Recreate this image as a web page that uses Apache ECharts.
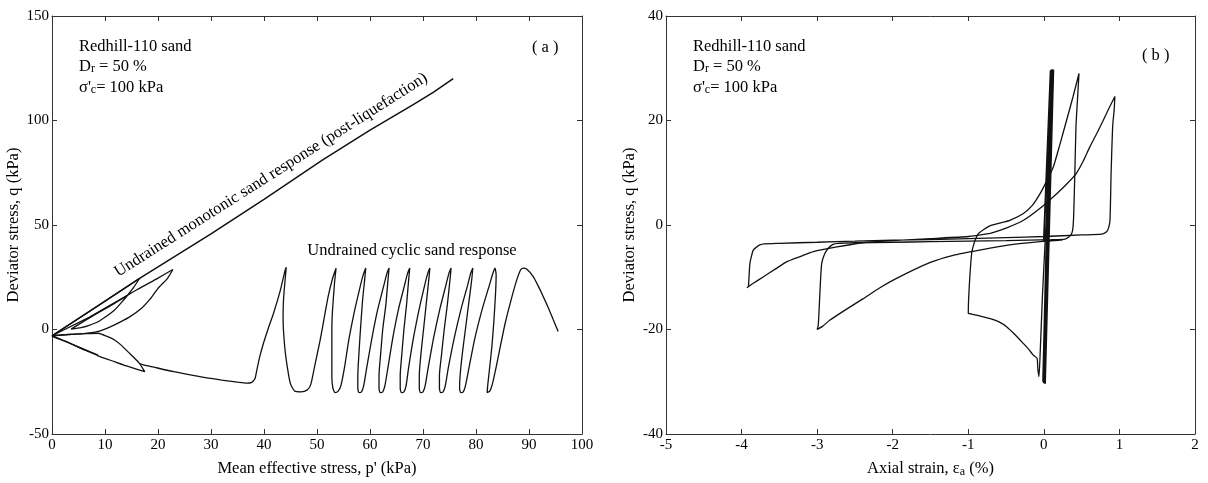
<!DOCTYPE html>
<html><head><meta charset="utf-8">
<script src="https://cdn.jsdelivr.net/npm/echarts@6/dist/echarts.min.js"></script>
<style>html,body{margin:0;padding:0;background:#fff}#c{width:1208px;height:483px}</style>
</head><body><div id="c"></div>
<script>
// ---------- Panel (a) data: [p', q] ----------
const leftXTicks = [0,10,20,30,40,50,60,70,80,90,100];
const leftYTicks = [-50,0,50,100,150];
const leftMonotonic = [[0,-3],[16.6,24.6],[30,45.8],[40,62.3],[51,81],[60,95.4],[68,107.4],[72,113.6],[75.7,120]];
const leftUp0 = [[0,-3],[8,10.2],[16.5,24.4]];
const leftUp0b = [[0,-3],[7,5.8],[14.3,16.5]];
const leftUp1 = [[16.5,24.4],[15.5,20.5],[14.3,16.5],[13,12.6],[11.8,9.3],[10.2,6.2],[8.7,3.7],[7,2.0],[5.5,0.9],[3.6,0.2],[8,7],[11.8,12.5],[16,19],[20,24.6],[22.8,28.7]];
const leftUp2 = [[22.8,28.7],[21.8,24.5],[20,19.7],[18.5,14.5],[16.9,10.2],[14.5,5.8],[11.8,2.2],[10,0.2],[8.1,-1.3],[6,-2.0],[3.6,-2.3],[0,-3]];
const leftLow1 = [[0,-3],[8.7,-12.2],[6,-9.6],[3,-6.2],[0,-3.3]];
const leftLow2 = [[0,-3],[3,-2.4],[6,-2.0],[8.7,-1.8],[10.3,-3.2],[11.8,-5.0],[13.1,-7.6],[14.3,-10.6],[15.5,-13.5],[16.5,-16.2],[17.5,-20.2],[14.5,-17.8],[11.8,-15.4],[8.7,-12.6],[5.5,-9.0],[2.5,-5.6],[0,-3]];
const leftCyclic = [[16.6,-16.4],[17.4,-17.0],[18.5,-17.6],[23,-20.2],[27.9,-22.6],[32,-24.2],[35,-25.2],[36.7,-25.7],[37.7,-25.3],[38.3,-23.5],[38.6,-20],[39.2,-13],[39.9,-6.6],[40.8,0.5],[41.8,7.8],[43,18],[44.0,28.5],[44.2,29.8],
 [43.7,15],[43.6,5],[43.9,-8],[44.4,-18],[45.0,-26],[45.8,-29.5],[47.0,-29.8],[48.1,-29],[48.8,-26.5],[49.6,-17],[50.6,-5],[52.1,15.7],[53.0,25],[53.6,29.3],
 [53.3,22.1],[52.9,8],[52.8,-0.2],[52.8,-12],[52.8,-22.6],[53.0,-28],[53.4,-30.2],[54.0,-29.5],[54.5,-27],
 [55.2,-18],[56.0,-5],[57.0,8],[58.0,19],[58.7,26],[59.2,29.4],
 [59.0,24],[58.6,14],[58.2,0],[57.9,-12],[57.7,-22],[57.7,-28],[57.9,-30.2],[58.4,-29.8],[58.8,-27],
 [59.4,-18],[60.3,-5],[61.4,9],[62.5,20],[63.2,27],[63.6,29.4],
 [63.4,24],[63.0,12],[62.4,0],[62.0,-12],[61.7,-22],[61.7,-28],[61.9,-30.2],[62.4,-29.8],[62.8,-27],
 [63.4,-18],[64.3,-4],[65.4,10],[66.5,21],[67.1,27],[67.5,29.4],
 [67.3,24],[66.9,12],[66.4,0],[66.0,-12],[65.7,-22],[65.7,-28],[65.9,-30.2],[66.4,-29.8],[66.8,-27],
 [67.3,-18],[68.2,-4],[69.3,10],[70.3,21],[70.9,27],[71.3,29.4],
 [71.1,24],[70.6,12],[70.1,0],[69.6,-12],[69.3,-22],[69.3,-28],[69.5,-30.2],[70.0,-29.8],[70.4,-27],
 [71.0,-18],[72.0,-4],[73.2,10],[74.3,21],[74.9,27],[75.3,29.4],
 [75.1,24],[74.6,12],[74.0,0],[73.5,-12],[73.1,-22],[73.1,-28],[73.3,-30.2],[73.8,-29.8],[74.2,-27],
 [74.8,-18],[75.9,-4],[77.2,10],[78.4,21],[79.0,27],[79.4,29.4],
 [79.2,24],[78.6,12],[78.0,0],[77.4,-12],[77.0,-22],[76.9,-28],[77.1,-30.2],[77.6,-29.8],[78.0,-27],
 [78.7,-18],[79.8,-4],[81.2,10],[82.5,21],[83.2,27],[83.6,29.4],
 [83.8,26],[83.7,18],[83.4,5],[83.0,-8],[82.5,-20],[82.2,-27],[82.1,-30.2],[82.6,-29.5],[83.1,-26],
 [83.8,-18],[84.6,-8],[85.5,3],[86.5,13],[87.6,23],[88.4,28.5],[88.9,29.4],[89.6,28.8],[90.8,25.3],[91.8,20.5],[92.7,15.7],[93.7,10],[94.6,4.5],[95.5,-1.0]];

// ---------- Panel (b) data: [axial strain %, q] ----------
const rightXTicks = [-5,-4,-3,-2,-1,0,1,2];
const rightYTicks = [-40,-20,0,20,40];
const rightBand = [[0.0,-3],[0.09,29.6],[-0.01,-30.0],[0.1,29.7],[0.0,-30.3],[0.11,29.8],[0.01,-30.2],[0.12,29.7],[0.015,-30.4],[0.125,29.7]];
const rightLoopA = [[0.125,29.7],[0.07,12],[0.02,-2.3],[-0.02,-14],[-0.05,-25.0],[-0.065,-29.0],[-0.08,-27.5],[-0.09,-25.5],[-0.14,-24.9],[-0.2,-23.8],[-0.27,-22.7],[-0.38,-21.0],[-0.49,-19.5],[-0.6,-18.5],[-0.71,-17.9],[-0.85,-17.4],[-0.97,-17.0],[-1.0,-16.9],
 [-0.995,-14],[-0.98,-10],[-0.955,-5.4],[-0.93,-3.8],[-0.9,-2.6],[-0.87,-1.7],[-0.80,-0.9],[-0.72,-0.2],[-0.6,0.3],[-0.45,0.9],[-0.27,2.2],[-0.15,3.8],[-0.05,6.0],[0.04,8.5],[0.125,11.1],[0.21,15.3],[0.30,20.0],[0.385,24.5],[0.465,29.0],
 [0.445,24],[0.425,18.8],[0.41,10],[0.395,2],[0.385,-0.5],[0.37,-1.6],[0.33,-2.3],[0.28,-2.7],[0.1,-2.8],[-0.5,-3.0],[-1.0,-3.1],[-1.5,-3.2],[-2.0,-3.3],[-2.5,-3.4],[-2.72,-3.5],[-2.79,-3.7],[-2.85,-4.4],[-2.90,-5.5],[-2.94,-7.4],[-2.96,-12],[-2.985,-19.2],[-3.0,-20.0],
 [-2.93,-19.4],[-2.83,-18.2],[-2.6,-16.0],[-2.39,-14.1],[-2.17,-12.0],[-1.95,-10.2],[-1.51,-7.2],[-1.2,-5.8],[-0.85,-4.8],[-0.45,-3.8],[-0.05,-3.2],[0.25,-2.9]];
const rightLoopB = [[-0.71,-1.6],[-0.5,-0.6],[-0.27,0.9],[-0.05,3.2],[0.17,6.0],[0.3,7.8],[0.43,9.9],[0.52,12.2],[0.61,15],[0.70,17.5],[0.785,20],[0.86,22.3],[0.94,24.6],
 [0.93,22],[0.91,18.8],[0.89,10],[0.875,0.9],[0.855,-0.6],[0.83,-1.3],[0.765,-1.75],[0.5,-1.9],[0,-2.2],[-0.5,-2.4],[-1.0,-2.6],[-1.5,-2.8],[-2.0,-2.9],[-2.5,-3.1],[-3.0,-3.3],[-3.5,-3.5],[-3.7,-3.6],[-3.76,-3.8],[-3.80,-4.2],[-3.845,-4.8],[-3.87,-6],[-3.89,-7.4],[-3.90,-9.5],[-3.91,-11.8],[-3.93,-12.0],
 [-3.85,-11.2],[-3.71,-9.9],[-3.55,-8.4],[-3.40,-7.0],[-3.2,-5.9],[-3.05,-5.1],[-2.74,-4.2],[-2.4,-3.4],[-2.0,-3.0],[-1.5,-2.6],[-1.0,-2.2],[-0.71,-1.6]];

const FONT = "'Liberation Serif','Times New Roman',serif";
const AX = '#333';
const FS = 16.5;

function xAx(gi, min, max, interval, pos, name, show){
  return {type:'value', gridIndex:gi, min, max, interval, position:pos,
    axisLine:{show:true, onZero:false, lineStyle:{color:AX,width:1}},
    axisTick:{show:true, inside:true, length:5, lineStyle:{color:AX}},
    axisLabel:{show:show, color:'#000', fontFamily:FONT, fontSize:15, margin:4},
    splitLine:{show:false},
    name: name||'', nameLocation:'middle', nameGap:26,
    nameTextStyle:{color:'#000', fontFamily:FONT, fontSize:FS,
      rich:{n:{fontFamily:FONT,fontSize:FS,color:'#000'}, s:{fontFamily:FONT,fontSize:12,color:'#000',padding:[6,0,0,0]}}}};
}
function yAx(gi, min, max, interval, pos, name, show){
  return {type:'value', gridIndex:gi, min, max, interval, position:pos,
    axisLine:{show:true, onZero:false, lineStyle:{color:AX,width:1}},
    axisTick:{show:true, inside:true, length:5, lineStyle:{color:AX}},
    axisLabel:{show:show, color:'#000', fontFamily:FONT, fontSize:15, margin:3},
    splitLine:{show:false},
    name: name||'', nameLocation:'middle', nameGap:28,
    nameTextStyle:{color:'#000', fontFamily:FONT, fontSize:FS}};
}
function ser(data, xi, yi, w, sm){
  return {type:'line', xAxisIndex:xi, yAxisIndex:yi, data, showSymbol:false, symbol:'none',
    smooth: sm||false,
    lineStyle:{color:'#111', width:w||1.3}, silent:true, animation:false, z:3};
}

const chart = echarts.init(document.getElementById('c'), null, {renderer:'canvas'});
const rich = {
  a:{fontFamily:FONT, fontSize:FS, color:'#000', verticalAlign:'bottom', lineHeight:19},
  s:{fontFamily:FONT, fontSize:12, color:'#000', verticalAlign:'bottom', lineHeight:15}
};
function note(left, top, text){
  return {type:'text', left, top, style:{text, rich, fill:'#000', font:FS+'px '+FONT}};
}
chart.setOption({
  animation:false,
  grid:[{left:52, right:626, top:16, bottom:49},{left:666, right:13, top:16, bottom:49}],
  xAxis:[
    xAx(0,0,100,10,'bottom',"Mean effective stress, p' (kPa)",true),
    xAx(0,0,100,10,'top','',false),
    xAx(1,-5,2,1,'bottom','{n|Axial strain, ε}{s|a}{n| (%)}',true),
    xAx(1,-5,2,1,'top','',false)
  ],
  yAxis:[
    yAx(0,-50,150,50,'left','Deviator stress, q (kPa)',true),
    yAx(0,-50,150,50,'right','',false),
    yAx(1,-40,40,20,'left','Deviator stress, q (kPa)',true),
    yAx(1,-40,40,20,'right','',false)
  ],
  series:[
    ser(leftMonotonic,0,0,1.5), ser(leftUp0,0,0), ser(leftUp0b,0,0), ser(leftUp1,0,0,1.3,0.2), ser(leftUp2,0,0,1.3,0.2),
    ser(leftLow1,0,0), ser(leftLow2,0,0,1.3,0.2), ser(leftCyclic,0,0,1.3,0.2),
    ser(rightBand,2,2,1.9), ser(rightLoopA,2,2,1.3,0.2), ser(rightLoopB,2,2,1.3,0.2)
  ],
  graphic:[
    note(79,38,'{a|Redhill-110 sand}'),
    note(79,58,'{a|D}{s|r}{a| = 50 %}'),
    note(79,79,"{a|σ'}{s|c}{a|= 100 kPa}"),
    note(532,39,'{a|( a )}'),
    note(693,38,'{a|Redhill-110 sand}'),
    note(693,58,'{a|D}{s|r}{a| = 50 %}'),
    note(693,79,"{a|σ'}{s|c}{a|= 100 kPa}"),
    note(1142,47,'{a|( b )}'),
    {type:'text', x:271, y:175, rotation:32.4*Math.PI/180,
      style:{text:'Undrained monotonic sand response (post-liquefaction)', fill:'#000', font:FS+'px '+FONT, align:'center', verticalAlign:'middle'}},
    {type:'text', x:412, y:251,
      style:{text:'Undrained cyclic sand response', fill:'#000', font:FS+'px '+FONT, align:'center', verticalAlign:'middle'}}
  ]
});
</script></body></html>
